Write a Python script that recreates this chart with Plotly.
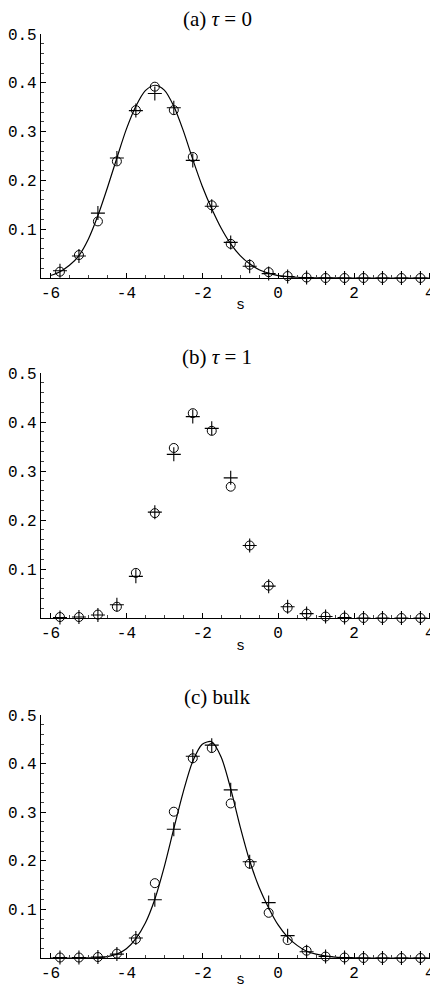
import plotly.graph_objects as go

# ---- data ----
s_bins = [-5.75, -5.25, -4.75, -4.25, -3.75, -3.25, -2.75, -2.25, -1.75, -1.25,
          -0.75, -0.25, 0.25, 0.75, 1.25, 1.75, 2.25, 2.75, 3.25, 3.75]

a_circle = [0.013, 0.047, 0.116, 0.239, 0.344, 0.392, 0.344, 0.248, 0.149, 0.070,
            0.027, 0.012, 0.004, 0.001, 0.0, 0.0, 0.0, 0.0, 0.0, 0.0]
a_plus = [0.015, 0.045, 0.133, 0.246, 0.343, 0.378, 0.349, 0.241, 0.147, 0.073,
          0.024, 0.009, 0.003, 0.001, 0.0, 0.0, 0.0, 0.0, 0.0, 0.0]

b_circle = [0.002, 0.002, 0.007, 0.023, 0.092, 0.214, 0.347, 0.418, 0.382, 0.268,
            0.148, 0.066, 0.021, 0.009, 0.003, 0.001, 0.0, 0.0, 0.0, 0.0]
b_plus = [0.001, 0.002, 0.006, 0.027, 0.085, 0.216, 0.334, 0.411, 0.387, 0.286,
          0.148, 0.065, 0.023, 0.009, 0.003, 0.001, 0.0, 0.0, 0.0, 0.0]

c_circle = [0.001, 0.001, 0.002, 0.009, 0.039, 0.154, 0.301, 0.411, 0.432, 0.318,
            0.194, 0.093, 0.037, 0.015, 0.003, 0.001, 0.0, 0.0, 0.0, 0.0]
c_plus = [0.001, 0.001, 0.002, 0.008, 0.041, 0.120, 0.265, 0.415, 0.438, 0.346,
          0.198, 0.114, 0.046, 0.013, 0.003, 0.001, 0.0, 0.0, 0.0, 0.0]

s_curve = [-6, -5.75, -5.5, -5.25, -5, -4.75, -4.5, -4.25, -4, -3.75, -3.5, -3.25,
           -3, -2.75, -2.5, -2.25, -2, -1.75, -1.5, -1.25, -1, -0.75, -0.5, -0.25,
           0, 0.25, 0.5, 0.75, 1, 1.5, 2, 3, 4]
a_curve = [0.005, 0.013, 0.026, 0.046, 0.080, 0.128, 0.185, 0.246, 0.305, 0.352,
           0.384, 0.395, 0.385, 0.352, 0.302, 0.243, 0.188, 0.142, 0.102, 0.070,
           0.046, 0.029, 0.017, 0.010, 0.005, 0.003, 0.0015, 0.0008, 0.0004,
           0.0001, 0.0, 0.0, 0.0]
c_curve = [0.0, 0.0, 0.0, 0.0, 0.0003, 0.001, 0.003, 0.008, 0.019, 0.040, 0.072,
           0.121, 0.188, 0.266, 0.342, 0.405, 0.440, 0.445, 0.413, 0.348, 0.270,
           0.200, 0.145, 0.103, 0.068, 0.043, 0.026, 0.014, 0.008, 0.002, 0.0005,
           0.0, 0.0]

titles = ["(a) <i>τ</i> = 0", "(b) <i>τ</i> = 1", "(c) bulk"]
x_ticks = [-6, -4, -2, 0, 2, 4]
y_ticks = [0.1, 0.2, 0.3, 0.4, 0.5]
y_ticklabels = ["0.1", "0.2", "0.3", "0.4", "0.5"]

# ---- layout geometry (page body has an 8px default margin) ----
OFF = 8
W, H = 438 - OFF, 991 - OFF
panels_px = [(34, 278), (373, 618), (715, 958)]  # top, bottom of plot areas (window px)
title_px = [19, 357, 697]
xlabel_px = [305, 646, 980]
X_RANGE = [-6.25, 4.2]
Y_RANGE = [0, 0.5]

fig = go.Figure()

mono = "Liberation Mono, Courier New, monospace"
serif = "Liberation Serif, Times New Roman, serif"

panel_data = [
    (a_circle, a_plus, a_curve),
    (b_circle, b_plus, None),
    (c_circle, c_plus, c_curve),
]

for i, (circ, plus, curve) in enumerate(panel_data):
    n = "" if i == 0 else str(i + 1)
    xa, ya = "x" + n, "y" + n
    if curve is not None:
        fig.add_trace(go.Scatter(x=s_curve, y=curve, mode="lines",
                                 line=dict(color="black", width=1.2, shape="spline", smoothing=0.8),
                                 xaxis=xa, yaxis=ya, showlegend=False, hoverinfo="skip"))
    fig.add_trace(go.Scatter(x=s_bins, y=circ, mode="markers",
                             marker=dict(symbol="circle-open", size=9, color="black",
                                         line=dict(width=1, color="black")),
                             xaxis=xa, yaxis=ya, showlegend=False, cliponaxis=False))
    fig.add_trace(go.Scatter(x=s_bins, y=plus, mode="markers",
                             marker=dict(symbol="cross-thin-open", size=10, color="black",
                                         line=dict(width=1.1, color="black")),
                             xaxis=xa, yaxis=ya, showlegend=False, cliponaxis=False))

layout = dict(
    width=W, height=H,
    margin=dict(l=0, r=0, t=0, b=0, autoexpand=False),
    paper_bgcolor="white", plot_bgcolor="white",
    showlegend=False,
)

x0 = (41 - OFF) / W
x1 = (437.5 - OFF) / W
annotations = []
for i, (top, bot) in enumerate(panels_px):
    n = "" if i == 0 else str(i + 1)
    ydom = [1 - (bot - OFF) / H, 1 - (top - OFF) / H]
    layout["xaxis" + n] = dict(
        domain=[x0, x1], anchor="y" + n, range=X_RANGE, automargin=False,
        tickmode="array", tickvals=x_ticks, ticktext=[str(v) for v in x_ticks],
        ticks="inside", ticklen=5, tickwidth=1, tickcolor="black",
        minor=dict(dtick=0.5, tick0=0, ticks="inside", ticklen=3, tickcolor="#444", tickwidth=1),
        showline=True, linecolor="black", linewidth=1.2, mirror=False,
        showgrid=False, zeroline=False,
        tickfont=dict(family=mono, size=16, color="black"),
    )
    layout["yaxis" + n] = dict(
        domain=ydom, anchor="x" + n, range=Y_RANGE, automargin=False,
        tickmode="array", tickvals=y_ticks, ticktext=y_ticklabels,
        ticks="inside", ticklen=5, tickwidth=1, tickcolor="black",
        minor=dict(dtick=0.02, tick0=0, ticks="inside", ticklen=3, tickcolor="#444", tickwidth=1),
        showline=True, linecolor="black", linewidth=1.2, mirror=False,
        showgrid=False, zeroline=False,
        tickfont=dict(family=mono, size=16, color="black"),
    )
    # top and right frame sides (lighter, ticks inward)
    tx = str(4 + i)
    layout["xaxis" + tx] = dict(
        overlaying="x" + n, anchor="y" + n, side="top", range=X_RANGE, automargin=False,
        tickmode="array", tickvals=x_ticks, showticklabels=False,
        ticks="inside", ticklen=5, tickwidth=1, tickcolor="#555",
        minor=dict(dtick=0.5, tick0=0, ticks="inside", ticklen=3, tickcolor="#888", tickwidth=1),
        showline=True, linecolor="#666", linewidth=1, showgrid=False, zeroline=False,
    )
    layout["yaxis" + tx] = dict(
        overlaying="y" + n, anchor="x" + n, side="right", range=Y_RANGE, automargin=False,
        tickmode="array", tickvals=y_ticks, showticklabels=False,
        ticks="inside", ticklen=5, tickwidth=1, tickcolor="#777",
        minor=dict(dtick=0.02, tick0=0, ticks="inside", ticklen=3, tickcolor="#aaa", tickwidth=1),
        showline=True, linecolor="#aaa", linewidth=1, showgrid=False, zeroline=False,
    )
    annotations.append(dict(text=titles[i], x=(217 - OFF) / W, y=1 - (title_px[i] - OFF) / H,
                            xref="paper", yref="paper", showarrow=False,
                            xanchor="center", yanchor="middle",
                            font=dict(family=serif, size=21, color="black")))
    annotations.append(dict(text="s", x=(240 - OFF) / W, y=1 - (xlabel_px[i] - OFF) / H,
                            xref="paper", yref="paper", showarrow=False,
                            xanchor="center", yanchor="middle",
                            font=dict(family=mono, size=15, color="black")))
layout["annotations"] = annotations
fig.update_layout(**layout)

fig.write_html("out.html")
